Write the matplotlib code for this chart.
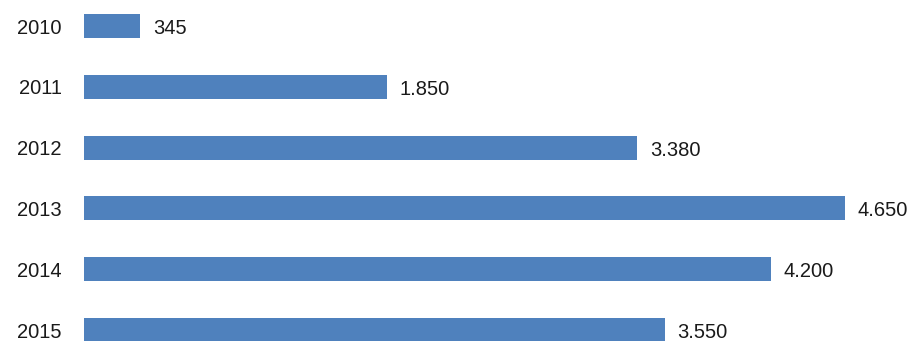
import matplotlib.pyplot as plt

years = ['2010', '2011', '2012', '2013', '2014', '2015']
values = [345, 1850, 3380, 4650, 4200, 3550]
value_labels = ['345', '1.850', '3.380', '4.650', '4.200', '3.550']

plt.rcParams['font.family'] = ['Liberation Sans', 'DejaVu Sans']

fig = plt.figure(figsize=(9.12, 3.41), dpi=100)
ax = fig.add_axes([84 / 912, 0, 818 / 912, 1])

pos = list(range(len(years)))
ax.barh(pos, values, height=0.395, color='#4F81BD')

# value labels sit a touch below the bar centre in the original
for p, v, lab in zip(pos, values, value_labels):
    ax.text(v + 78, p + 0.04, lab, va='center', ha='left', fontsize=14.5, color='#1a1a1a')

ax.set_xlim(0, 5000)
ax.set_ylim(5.18, -0.428)
ax.set_yticks(pos)
ax.set_yticklabels(years, fontsize=14.5, color='#1a1a1a')
ax.tick_params(axis='y', length=0, pad=16)
ax.set_xticks([])
for s in ax.spines.values():
    s.set_visible(False)

fig.savefig('out.png', dpi=100)
